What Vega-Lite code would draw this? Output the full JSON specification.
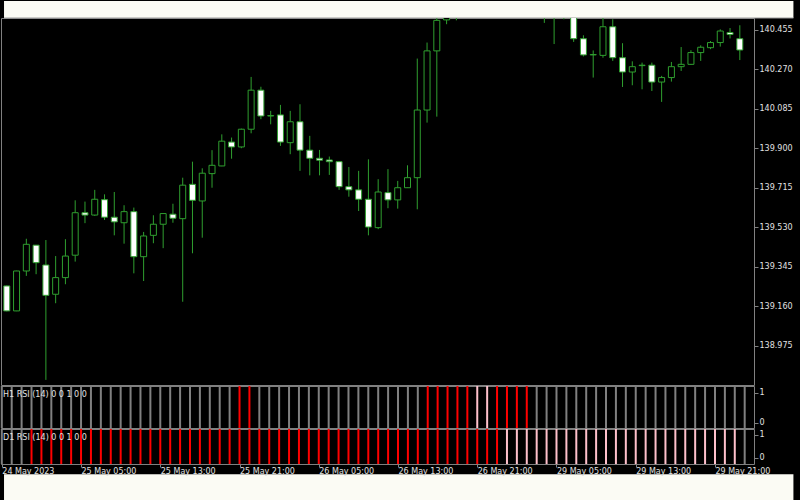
{
  "$schema": "https://vega.github.io/schema/vega-lite/v6.json",
  "background": "#000000",
  "padding": {"left": 0, "top": 0, "right": 5, "bottom": 0},
  "spacing": 1,
  "bounds": "flush",
  "resolve": {"scale": {"x": "independent", "y": "independent", "color": "independent"}},
  "datasets": {
    "bars": [
      {"i":0,"o":139.256,"h":139.258,"l":139.137,"c":139.139,"h1":0,"d1":0},
      {"i":1,"o":139.139,"h":139.327,"l":139.138,"c":139.326,"h1":0,"d1":0},
      {"i":2,"o":139.326,"h":139.477,"l":139.303,"c":139.451,"h1":0,"d1":0},
      {"i":3,"o":139.447,"h":139.448,"l":139.311,"c":139.365,"h1":0,"d1":1},
      {"i":4,"o":139.354,"h":139.471,"l":138.816,"c":139.212,"h1":0,"d1":1},
      {"i":5,"o":139.217,"h":139.396,"l":139.175,"c":139.295,"h1":0,"d1":1},
      {"i":6,"o":139.295,"h":139.475,"l":139.264,"c":139.396,"h1":0,"d1":1},
      {"i":7,"o":139.400,"h":139.657,"l":139.370,"c":139.599,"h1":0,"d1":1},
      {"i":8,"o":139.599,"h":139.651,"l":139.550,"c":139.588,"h1":0,"d1":1},
      {"i":9,"o":139.588,"h":139.706,"l":139.584,"c":139.662,"h1":0,"d1":1},
      {"i":10,"o":139.660,"h":139.685,"l":139.565,"c":139.578,"h1":0,"d1":1},
      {"i":11,"o":139.578,"h":139.696,"l":139.493,"c":139.556,"h1":0,"d1":1},
      {"i":12,"o":139.552,"h":139.634,"l":139.454,"c":139.604,"h1":0,"d1":1},
      {"i":13,"o":139.604,"h":139.623,"l":139.315,"c":139.393,"h1":0,"d1":1},
      {"i":14,"o":139.393,"h":139.509,"l":139.279,"c":139.490,"h1":0,"d1":1},
      {"i":15,"o":139.493,"h":139.587,"l":139.456,"c":139.545,"h1":0,"d1":1},
      {"i":16,"o":139.545,"h":139.596,"l":139.433,"c":139.595,"h1":0,"d1":1},
      {"i":17,"o":139.592,"h":139.641,"l":139.552,"c":139.573,"h1":0,"d1":1},
      {"i":18,"o":139.571,"h":139.763,"l":139.182,"c":139.728,"h1":0,"d1":1},
      {"i":19,"o":139.732,"h":139.838,"l":139.409,"c":139.657,"h1":0,"d1":1},
      {"i":20,"o":139.654,"h":139.807,"l":139.482,"c":139.784,"h1":0,"d1":1},
      {"i":21,"o":139.782,"h":139.892,"l":139.716,"c":139.821,"h1":0,"d1":1},
      {"i":22,"o":139.818,"h":139.966,"l":139.817,"c":139.934,"h1":0,"d1":1},
      {"i":23,"o":139.930,"h":139.951,"l":139.852,"c":139.907,"h1":0,"d1":1},
      {"i":24,"o":139.907,"h":139.993,"l":139.901,"c":139.990,"h1":1,"d1":1},
      {"i":25,"o":139.990,"h":140.235,"l":139.971,"c":140.173,"h1":1,"d1":1},
      {"i":26,"o":140.173,"h":140.189,"l":140.037,"c":140.052,"h1":0,"d1":1},
      {"i":27,"o":140.052,"h":140.076,"l":140.013,"c":140.054,"h1":0,"d1":1},
      {"i":28,"o":140.057,"h":140.104,"l":139.912,"c":139.930,"h1":0,"d1":1},
      {"i":29,"o":139.927,"h":140.076,"l":139.873,"c":140.025,"h1":0,"d1":1},
      {"i":30,"o":140.025,"h":140.107,"l":139.795,"c":139.892,"h1":0,"d1":1},
      {"i":31,"o":139.892,"h":139.959,"l":139.774,"c":139.854,"h1":0,"d1":1},
      {"i":32,"o":139.854,"h":139.893,"l":139.774,"c":139.845,"h1":0,"d1":1},
      {"i":33,"o":139.846,"h":139.862,"l":139.776,"c":139.838,"h1":0,"d1":1},
      {"i":34,"o":139.838,"h":139.840,"l":139.706,"c":139.721,"h1":0,"d1":1},
      {"i":35,"o":139.721,"h":139.813,"l":139.674,"c":139.706,"h1":0,"d1":1},
      {"i":36,"o":139.706,"h":139.795,"l":139.607,"c":139.662,"h1":0,"d1":1},
      {"i":37,"o":139.662,"h":139.849,"l":139.493,"c":139.532,"h1":0,"d1":1},
      {"i":38,"o":139.529,"h":139.756,"l":139.522,"c":139.696,"h1":0,"d1":1},
      {"i":39,"o":139.693,"h":139.803,"l":139.620,"c":139.659,"h1":0,"d1":1},
      {"i":40,"o":139.659,"h":139.748,"l":139.618,"c":139.716,"h1":0,"d1":1},
      {"i":41,"o":139.716,"h":139.821,"l":139.715,"c":139.763,"h1":0,"d1":1},
      {"i":42,"o":139.763,"h":140.321,"l":139.615,"c":140.080,"h1":0,"d1":1},
      {"i":43,"o":140.080,"h":140.396,"l":140.021,"c":140.357,"h1":1,"d1":1},
      {"i":44,"o":140.357,"h":140.530,"l":140.049,"c":140.500,"h1":1,"d1":1},
      {"i":45,"o":140.502,"h":140.600,"l":140.482,"c":140.580,"h1":1,"d1":1},
      {"i":46,"o":140.580,"h":140.660,"l":140.500,"c":140.620,"h1":1,"d1":1},
      {"i":47,"o":140.620,"h":140.700,"l":140.560,"c":140.660,"h1":1,"d1":1},
      {"i":48,"o":140.660,"h":140.720,"l":140.600,"c":140.630,"h1":2,"d1":1},
      {"i":49,"o":140.630,"h":140.680,"l":140.550,"c":140.600,"h1":2,"d1":1},
      {"i":50,"o":140.600,"h":140.690,"l":140.570,"c":140.660,"h1":1,"d1":1},
      {"i":51,"o":140.660,"h":140.750,"l":140.620,"c":140.720,"h1":1,"d1":2},
      {"i":52,"o":140.720,"h":140.780,"l":140.650,"c":140.680,"h1":1,"d1":2},
      {"i":53,"o":140.680,"h":140.730,"l":140.600,"c":140.640,"h1":1,"d1":2},
      {"i":54,"o":140.640,"h":140.700,"l":140.580,"c":140.620,"h1":0,"d1":2},
      {"i":55,"o":140.620,"h":140.660,"l":140.488,"c":140.580,"h1":0,"d1":2},
      {"i":56,"o":140.580,"h":140.630,"l":140.389,"c":140.550,"h1":0,"d1":2},
      {"i":57,"o":140.550,"h":140.610,"l":140.505,"c":140.590,"h1":0,"d1":2},
      {"i":58,"o":140.590,"h":140.620,"l":140.399,"c":140.414,"h1":0,"d1":2},
      {"i":59,"o":140.414,"h":140.430,"l":140.331,"c":140.338,"h1":0,"d1":2},
      {"i":60,"o":140.338,"h":140.359,"l":140.232,"c":140.340,"h1":0,"d1":2},
      {"i":61,"o":140.336,"h":140.520,"l":140.325,"c":140.470,"h1":0,"d1":2},
      {"i":62,"o":140.470,"h":140.505,"l":140.310,"c":140.325,"h1":0,"d1":2},
      {"i":63,"o":140.325,"h":140.393,"l":140.188,"c":140.258,"h1":0,"d1":2},
      {"i":64,"o":140.258,"h":140.308,"l":140.196,"c":140.283,"h1":0,"d1":2},
      {"i":65,"o":140.288,"h":140.302,"l":140.177,"c":140.290,"h1":0,"d1":2},
      {"i":66,"o":140.290,"h":140.302,"l":140.169,"c":140.211,"h1":0,"d1":2},
      {"i":67,"o":140.211,"h":140.240,"l":140.118,"c":140.232,"h1":0,"d1":2},
      {"i":68,"o":140.232,"h":140.305,"l":140.213,"c":140.283,"h1":0,"d1":2},
      {"i":69,"o":140.283,"h":140.375,"l":140.263,"c":140.294,"h1":0,"d1":2},
      {"i":70,"o":140.294,"h":140.360,"l":140.291,"c":140.349,"h1":0,"d1":2},
      {"i":71,"o":140.349,"h":140.383,"l":140.310,"c":140.374,"h1":0,"d1":2},
      {"i":72,"o":140.372,"h":140.403,"l":140.365,"c":140.396,"h1":0,"d1":2},
      {"i":73,"o":140.396,"h":140.458,"l":140.377,"c":140.450,"h1":0,"d1":2},
      {"i":74,"o":140.443,"h":140.464,"l":140.415,"c":140.434,"h1":0,"d1":2},
      {"i":75,"o":140.414,"h":140.477,"l":140.314,"c":140.361,"h1":0,"d1":0}
    ]
  },
  "vconcat": [
    {
      "width": 753,
      "height": 367,
      "layer": [
        {
          "data": {"values": [{}]},
          "mark": {"type": "rect", "color": "#fbfbf4", "clip": false},
          "encoding": {
            "x": {"datum": -0.282, "type": "quantitative", "scale": {"domain": [-0.08, 75.94], "nice": false, "zero": false}, "axis": null},
            "x2": {"datum": 80.485},
            "y": {"datum": 140.5906, "type": "quantitative", "scale": {"domain": [138.792, 140.511], "nice": false, "zero": false}},
            "y2": {"datum": 140.511}
          }
        },
        {
          "data": {"values": [{}]},
          "mark": {"type": "rect", "color": "#fbfbf4", "clip": false},
          "encoding": {
            "x": {"datum": -0.282, "type": "quantitative", "axis": null},
            "x2": {"datum": 80.485},
            "y": {"datum": 138.3738, "type": "quantitative"},
            "y2": {"datum": 138.2487}
          }
        },
        {
          "data": {"values": [{}]},
          "mark": {"type": "rule", "color": "#9a9a9a", "clip": false},
          "encoding": {
            "x": {"datum": -0.282, "type": "quantitative", "axis": null},
            "x2": {"datum": 80.485},
            "y": {"datum": 140.511, "type": "quantitative"}
          }
        },
        {
          "data": {"name": "bars"},
          "mark": {"type": "rule", "color": "#2f9f2f", "strokeWidth": 1, "clip": true},
          "encoding": {
            "x": {"field": "i", "type": "quantitative", "axis": null},
            "y": {"field": "l", "type": "quantitative", "axis": {"orient": "right", "values": [138.975, 139.16, 139.345, 139.53, 139.715, 139.9, 140.085, 140.27, 140.455], "format": ".3f", "tickSize": 4, "labelPadding": 1, "title": null}},
            "y2": {"field": "h"}
          }
        },
        {
          "data": {"name": "bars"},
          "mark": {"type": "bar", "width": 6, "stroke": "#2f9f2f", "strokeWidth": 1, "clip": true},
          "encoding": {
            "x": {"field": "i", "type": "quantitative", "axis": null},
            "y": {"field": "o", "type": "quantitative"},
            "y2": {"field": "c"},
            "fill": {"condition": {"test": "datum.c > datum.o", "value": "#000000"}, "value": "#ffffff"}
          }
        }
      ]
    },
    {
      "width": 753,
      "height": 42,
      "data": {"name": "bars"},
      "title": {"text": "H1 RSI (14) 0 0 1 0 0", "anchor": "start", "frame": "group", "orient": "top", "offset": -11, "baseline": "alphabetic", "dx": 2, "dy": 9},
      "mark": {"type": "rule", "strokeWidth": 2},
      "encoding": {
        "x": {"field": "i", "type": "quantitative", "scale": {"domain": [-0.08, 75.94], "nice": false, "zero": false}, "axis": null},
        "y": {"datum": -0.18, "type": "quantitative", "scale": {"domain": [-0.18, 1.22], "nice": false, "zero": false}, "axis": {"orient": "right", "values": [0, 1], "format": "d", "tickSize": 4, "labelPadding": 1, "title": null}},
        "y2": {"datum": 1.22},
        "color": {"field": "h1", "type": "nominal", "scale": {"domain": [0, 1, 2], "range": ["#808080", "#ff0000", "#ffc0cb"]}, "legend": null}
      }
    },
    {
      "width": 753,
      "height": 35,
      "data": {"name": "bars"},
      "title": {"text": "D1 RSI (14) 0 0 1 0 0", "anchor": "start", "frame": "group", "orient": "top", "offset": -11, "baseline": "alphabetic", "dx": 2, "dy": 9},
      "mark": {"type": "rule", "strokeWidth": 2},
      "encoding": {
        "x": {"field": "i", "type": "quantitative", "scale": {"domain": [-0.08, 75.94], "nice": false, "zero": false},
          "axis": {"values": [0, 8, 16, 24, 32, 40, 48, 56, 64, 72], "labelExpr": "['24 May 2023','25 May 05:00','25 May 13:00','25 May 21:00','26 May 05:00','26 May 13:00','26 May 21:00','29 May 05:00','29 May 13:00','29 May 21:00'][round(datum.value/8)]", "labelAlign": "left", "labelBaseline": "top", "labelPadding": 0, "tickSize": 3, "labelFlush": false, "labelOverlap": false, "labelBound": false, "title": null}},
        "y": {"datum": -0.278, "type": "quantitative", "scale": {"domain": [-0.278, 1.264], "nice": false, "zero": false}, "axis": {"orient": "right", "values": [0, 1], "format": "d", "tickSize": 4, "labelPadding": 1, "title": null}},
        "y2": {"datum": 1.264},
        "color": {"field": "d1", "type": "nominal", "scale": {"domain": [0, 1, 2], "range": ["#808080", "#ff0000", "#ffc0cb"]}, "legend": null}
      }
    }
  ],
  "config": {
    "view": {"stroke": "#808080", "strokeWidth": 1},
    "axis": {"labelFont": "DejaVu Sans", "labelFontSize": 8, "labelColor": "#e0e0e0", "tickColor": "#808080", "domain": false, "grid": false},
    "title": {"font": "DejaVu Sans", "fontSize": 8, "fontWeight": "normal", "color": "#e0e0e0"}
  }
}
